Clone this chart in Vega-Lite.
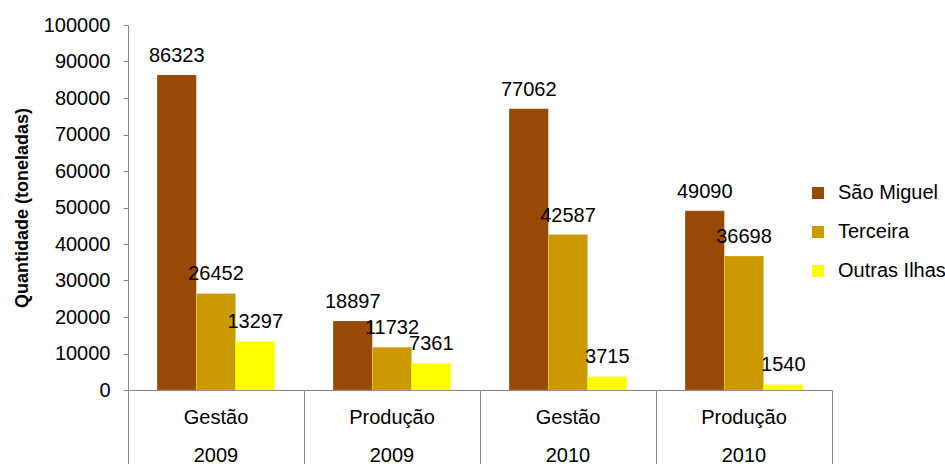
{
  "$schema": "https://vega.github.io/schema/vega-lite/v6.json",
  "autosize": "none",
  "width": 704,
  "height": 365,
  "padding": {"left": 128, "top": 25, "right": 113, "bottom": 74},
  "background": "white",
  "config": {
    "view": {"stroke": null},
    "font": "Liberation Sans",
    "axis": {"labelFont": "Liberation Sans", "titleFont": "Liberation Sans"},
    "legend": {"labelFont": "Liberation Sans"}
  },
  "data": {
    "values": [
      {"cat": "Gestão|2009", "ilha": "São Miguel", "valor": 86323},
      {"cat": "Gestão|2009", "ilha": "Terceira", "valor": 26452},
      {"cat": "Gestão|2009", "ilha": "Outras Ilhas", "valor": 13297},
      {"cat": "Produção|2009", "ilha": "São Miguel", "valor": 18897},
      {"cat": "Produção|2009", "ilha": "Terceira", "valor": 11732},
      {"cat": "Produção|2009", "ilha": "Outras Ilhas", "valor": 7361},
      {"cat": "Gestão|2010", "ilha": "São Miguel", "valor": 77062},
      {"cat": "Gestão|2010", "ilha": "Terceira", "valor": 42587},
      {"cat": "Gestão|2010", "ilha": "Outras Ilhas", "valor": 3715},
      {"cat": "Produção|2010", "ilha": "São Miguel", "valor": 49090},
      {"cat": "Produção|2010", "ilha": "Terceira", "valor": 36698},
      {"cat": "Produção|2010", "ilha": "Outras Ilhas", "valor": 1540}
    ]
  },
  "encoding": {
    "x": {
      "field": "cat",
      "type": "nominal",
      "sort": null,
      "scale": {"paddingInner": 0, "paddingOuter": 0},
      "axis": {
        "title": null,
        "bandPosition": 1,
        "tickExtra": true,
        "labelOffset": 0,
        "labelAngle": 0,
        "labelExpr": "split(datum.label, '|')",
        "labelLineHeight": 38,
        "labelFontSize": 20,
        "labelColor": "#000000",
        "labelPadding": -57,
        "labelBaseline": "top",
        "tickSize": 74,
        "tickColor": "#868686",
        "domainColor": "#868686",
        "tickWidth": 1,
        "domainWidth": 1
      }
    },
    "xOffset": {
      "field": "ilha",
      "type": "nominal",
      "sort": ["São Miguel", "Terceira", "Outras Ilhas"],
      "scale": {"paddingInner": 0, "paddingOuter": 0.74}
    },
    "y": {
      "field": "valor",
      "type": "quantitative",
      "scale": {"domain": [0, 100000], "nice": false},
      "axis": {
        "title": "Quantidade (toneladas)",
        "titleFontSize": 18,
        "titleFontWeight": "bold",
        "titleColor": "#000000",
        "titlePadding": 12,
        "values": [0, 10000, 20000, 30000, 40000, 50000, 60000, 70000, 80000, 90000, 100000],
        "format": "d",
        "grid": false,
        "labelFontSize": 20,
        "labelColor": "#000000",
        "labelPadding": 13,
        "tickSize": 5,
        "tickColor": "#868686",
        "domainColor": "#868686"
      }
    }
  },
  "layer": [
    {
      "mark": {"type": "bar", "stroke": "#ffffff", "strokeOpacity": 0.35, "strokeWidth": 0.5},
      "encoding": {
        "color": {
          "field": "ilha",
          "type": "nominal",
          "sort": ["São Miguel", "Terceira", "Outras Ilhas"],
          "scale": {"domain": ["São Miguel", "Terceira", "Outras Ilhas"], "range": ["#984807", "#cc9900", "#ffff00"]},
          "legend": {
            "title": null,
            "orient": "none",
            "legendX": 680,
            "legendY": 158,
            "symbolType": "square",
            "symbolSize": 144,
            "symbolStrokeWidth": 0,
            "labelFontSize": 20,
            "labelColor": "#000000",
            "labelOffset": 10,
            "rowPadding": 19,
            "padding": 0
          }
        }
      }
    },
    {
      "mark": {"type": "text", "baseline": "alphabetic", "dy": -13, "fontSize": 20, "color": "#000000", "font": "Liberation Sans"},
      "encoding": {
        "text": {"field": "valor", "type": "quantitative", "format": "d"}
      }
    }
  ]
}
